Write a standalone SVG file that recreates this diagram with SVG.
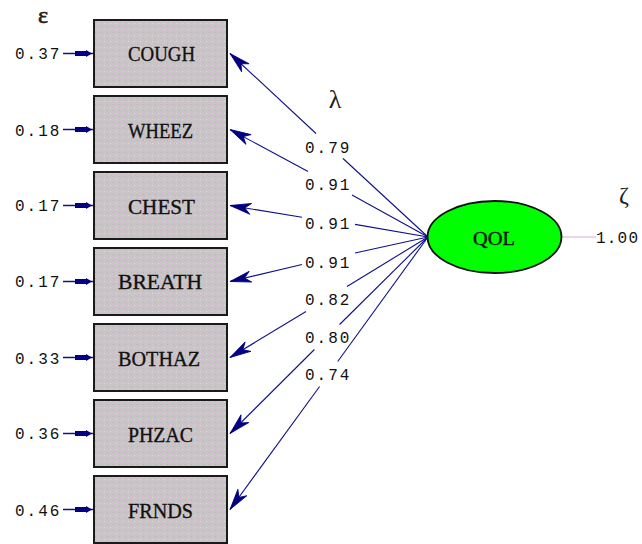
<svg xmlns="http://www.w3.org/2000/svg" width="642" height="544" viewBox="0 0 642 544">
<style>
.box{stroke:#1a1a1a;stroke-width:2;fill:url(#speck)}
.lbl{font-family:"Liberation Serif",serif;font-size:22px;fill:#111;stroke:#111;stroke-width:0.35}
.num{font-family:"Liberation Mono",monospace;font-size:16px;letter-spacing:2px;fill:#111}
.greek{font-family:"Liberation Serif","DejaVu Serif",serif;fill:#222}
.path{stroke:#10108a;stroke-width:1.1;fill:none}
.err{stroke:#10108a;stroke-width:1.5;fill:none}
</style>
<defs>
<pattern id="speck" width="6" height="6" patternUnits="userSpaceOnUse">
<rect width="6" height="6" fill="#c6c6c4"/>
<rect x="0" y="0" width="1" height="1" fill="#d8bcd4"/>
<rect x="3" y="1" width="1" height="1" fill="#aecbc4"/>
<rect x="1" y="3" width="1" height="1" fill="#aecbc4"/>
<rect x="4" y="4" width="1" height="1" fill="#d8bcd4"/>
<rect x="2" y="5" width="1" height="1" fill="#dedad8"/>
<rect x="5" y="2" width="1" height="1" fill="#b4b4b8"/>
</pattern>
<marker id="arr" viewBox="-24 -7 26 14" markerWidth="26" markerHeight="14" refX="0" refY="0" orient="auto" markerUnits="userSpaceOnUse">
<path d="M0,0 L-21,-5.5 L-15,0 L-21,5.5 Z" fill="#000080" stroke="#000080" stroke-width="0.8" stroke-linejoin="round"/>
</marker>
<marker id="earr" viewBox="-20 -5 22 10" markerWidth="22" markerHeight="10" refX="0" refY="0" orient="auto" markerUnits="userSpaceOnUse">
<path d="M-1,0 L-7,-3.5 L-7,-2.4 L-18,-2.4 L-18,2.4 L-7,2.4 L-7,3.5 Z" fill="#000080"/>
</marker>
</defs>
<rect width="642" height="544" fill="#fff"/>

<g id="connectors">
<path class="path" d="M428,237 L343,158.5"/><path class="path" d="M316,133.5 L230,53.5" marker-end="url(#arr)"/>
<path class="path" d="M428,237 L352,195"/><path class="path" d="M308,171.5 L230,129.5" marker-end="url(#arr)"/>
<path class="path" d="M428,237 L355,224.4"/><path class="path" d="M302,217.2 L230,205.5" marker-end="url(#arr)"/>
<path class="path" d="M428,237 L355,253"/><path class="path" d="M302,264.5 L230,281.5" marker-end="url(#arr)"/>
<path class="path" d="M428,237 L347,286.5"/><path class="path" d="M306,311.5 L230,357.5" marker-end="url(#arr)"/>
<path class="path" d="M428,237 L339.6,324.5"/><path class="path" d="M314.4,349.5 L230,433.5" marker-end="url(#arr)"/>
<path class="path" d="M428,237 L337.7,361.5"/><path class="path" d="M319.6,386.5 L230,509.5" marker-end="url(#arr)"/>
<path class="err" d="M63,53.5 L93,53.5" marker-end="url(#earr)"/>
<path class="err" d="M63,129.5 L93,129.5" marker-end="url(#earr)"/>
<path class="err" d="M63,205.5 L93,205.5" marker-end="url(#earr)"/>
<path class="err" d="M63,281.5 L93,281.5" marker-end="url(#earr)"/>
<path class="err" d="M63,357.5 L93,357.5" marker-end="url(#earr)"/>
<path class="err" d="M63,433.5 L93,433.5" marker-end="url(#earr)"/>
<path class="err" d="M63,509.5 L93,509.5" marker-end="url(#earr)"/>
<path d="M562,237 L596,237" stroke="#d8a8d8" stroke-width="1.2"/>
</g>

<g id="loadings">
<text class="num" x="305" y="153">0.79</text>
<text class="num" x="305" y="190">0.91</text>
<text class="num" x="305" y="229">0.91</text>
<text class="num" x="305" y="268">0.91</text>
<text class="num" x="305" y="305">0.82</text>
<text class="num" x="305" y="343">0.80</text>
<text class="num" x="305" y="380">0.74</text>
</g>

<g id="errors">
<text class="num" x="15" y="59">0.37</text>
<text class="num" x="15" y="135.5">0.18</text>
<text class="num" x="15" y="211">0.17</text>
<text class="num" x="15" y="287">0.17</text>
<text class="num" x="15" y="363.5">0.33</text>
<text class="num" x="15" y="439">0.36</text>
<text class="num" x="15" y="515.5">0.46</text>
</g>

<g id="COUGH"><rect class="box" x="94" y="20" width="133" height="67"/><text class="lbl" x="128" y="61" textLength="67" lengthAdjust="spacingAndGlyphs">COUGH</text></g>
<g id="WHEEZ"><rect class="box" x="94" y="96" width="133" height="67"/><text class="lbl" x="128" y="138" textLength="65" lengthAdjust="spacingAndGlyphs">WHEEZ</text></g>
<g id="CHEST"><rect class="box" x="94" y="172" width="133" height="67"/><text class="lbl" x="128" y="214" textLength="67" lengthAdjust="spacingAndGlyphs">CHEST</text></g>
<g id="BREATH"><rect class="box" x="94" y="248" width="133" height="67"/><text class="lbl" x="118" y="289" textLength="84" lengthAdjust="spacingAndGlyphs">BREATH</text></g>
<g id="BOTHAZ"><rect class="box" x="94" y="324" width="133" height="67"/><text class="lbl" x="118" y="366" textLength="82" lengthAdjust="spacingAndGlyphs">BOTHAZ</text></g>
<g id="PHZAC"><rect class="box" x="94" y="400" width="133" height="67"/><text class="lbl" x="128" y="442" textLength="65" lengthAdjust="spacingAndGlyphs">PHZAC</text></g>
<g id="FRNDS"><rect class="box" x="94" y="476" width="133" height="67"/><text class="lbl" x="128" y="518" textLength="65" lengthAdjust="spacingAndGlyphs">FRNDS</text></g>

<g id="QOL"><ellipse cx="494.5" cy="237" rx="67" ry="36" fill="#00ff00" stroke="#111" stroke-width="1.8"/><text class="lbl" x="473" y="245" style="font-size:18px" textLength="42" lengthAdjust="spacingAndGlyphs">QOL</text></g>
<text class="num" x="596" y="243" style="letter-spacing:1.2px">1.00</text>

<text class="greek" x="43" y="23" font-size="24" stroke="#222" stroke-width="0.6" text-anchor="middle">ε</text>
<text class="greek" x="335" y="108" font-size="26" text-anchor="middle">λ</text>
<text class="greek" x="624" y="203" font-size="24" text-anchor="middle">ζ</text>
</svg>
